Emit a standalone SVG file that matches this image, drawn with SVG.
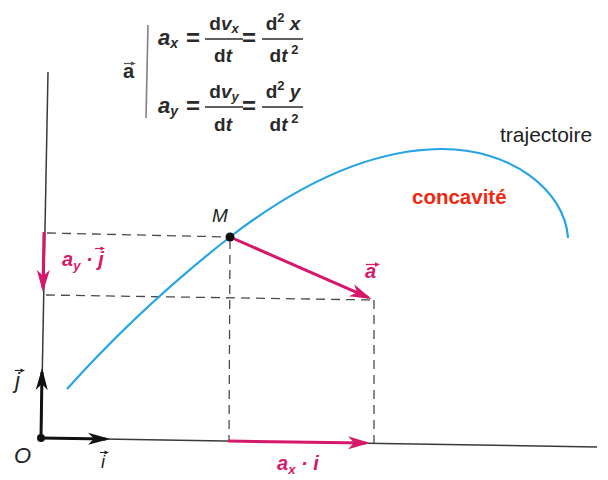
<svg xmlns="http://www.w3.org/2000/svg" width="608" height="480" viewBox="0 0 608 480">
<defs>
<style>
.t{font-family:"Liberation Sans",Arial,sans-serif;}
.f{font-family:"Liberation Sans",Arial,sans-serif;font-weight:bold;fill:#2a2a2a;}
.bi{font-weight:bold;font-style:italic;}
.mag{fill:#d6186a;}
.dash{fill:none;stroke:#4a4a4a;stroke-width:1.3;stroke-dasharray:9 6;}
.axis{fill:none;stroke:#3a3a3a;stroke-width:1.5;}
.vm{fill:none;stroke:#d6186a;stroke-width:3;}
.vb{fill:none;stroke:#111;stroke-width:3;}
.bar{stroke:#2a2a2a;stroke-width:1.6;}
</style>
<marker id="am" markerUnits="userSpaceOnUse" markerWidth="24" markerHeight="16" refX="18" refY="8" orient="auto">
<path d="M0,1.5 L22,8 L0,14.5 L6,8 z" fill="#d6186a"/>
</marker>
<marker id="ab" markerUnits="userSpaceOnUse" markerWidth="24" markerHeight="16" refX="18" refY="8" orient="auto">
<path d="M0,2 L22,8 L0,14 L6,8 z" fill="#111"/>
</marker>
</defs>
<rect width="608" height="480" fill="#fff"/>

<g id="connectors">
<line class="axis" x1="48" y1="72" x2="41" y2="438"/>
<line class="axis" x1="41" y1="438" x2="597" y2="447"/>
<line class="dash" x1="47" y1="233" x2="230" y2="237"/>
<line class="dash" x1="46" y1="295" x2="374" y2="300"/>
<line class="dash" x1="230" y1="240" x2="229" y2="441"/>
<line class="dash" x1="374" y1="300" x2="374" y2="443"/>
<path id="trajectory" d="M67,389 C120,330 175,280 230,237 C300,183 370,150 440,149 C510,148 565,190 568,238" fill="none" stroke="#27a4e6" stroke-width="2.2"/>
<line class="vb" x1="41" y1="438" x2="42" y2="372" marker-end="url(#ab)"/>
<line class="vb" x1="41" y1="438" x2="106" y2="439" marker-end="url(#ab)"/>
<line class="vm" x1="44" y1="232" x2="43" y2="288" marker-end="url(#am)"/>
<line class="vm" x1="228" y1="441" x2="366" y2="443" marker-end="url(#am)"/>
<line class="vm" x1="230" y1="237" x2="368" y2="297.4" marker-end="url(#am)"/>
</g>

<g id="formula">
<line x1="148" y1="25" x2="146" y2="118" stroke="#8a7a8a" stroke-width="1.6"/>
<text class="f" x="123" y="78" font-size="20" fill="#555">a</text>
<path d="M124,63.5 H133" stroke="#555" stroke-width="1.2"/>
<path d="M136,63.5 L131,61.5 L131,65.5 z" fill="#555"/>
<!-- row 1 -->
<text class="f bi" x="158" y="45" font-size="22">a<tspan font-size="14" dy="3">x</tspan></text>
<text class="t" x="186" y="46" font-size="24" font-weight="bold" fill="#2a2a2a">=</text>
<text class="f" x="224" y="30" font-size="19" text-anchor="middle">d<tspan font-style="italic">v</tspan><tspan font-style="italic" font-size="13" dy="3">x</tspan></text>
<line class="bar" x1="205" y1="39" x2="243" y2="39"/>
<text class="f" x="223" y="62" font-size="19" text-anchor="middle">d<tspan font-style="italic">t</tspan></text>
<text class="t" x="242" y="46" font-size="24" font-weight="bold" fill="#2a2a2a">=</text>
<text class="f" x="283" y="30" font-size="19" text-anchor="middle">d<tspan font-size="13" dy="-8">2</tspan><tspan font-style="italic" dy="8"> x</tspan></text>
<line class="bar" x1="262" y1="39" x2="303" y2="39"/>
<text class="f" x="284" y="62" font-size="19" text-anchor="middle">d<tspan font-style="italic">t</tspan><tspan font-size="13" dy="-8"> 2</tspan></text>
<!-- row 2 -->
<text class="f bi" x="158" y="113" font-size="22">a<tspan font-size="14" dy="3">y</tspan></text>
<text class="t" x="186" y="114" font-size="24" font-weight="bold" fill="#2a2a2a">=</text>
<text class="f" x="224" y="98" font-size="19" text-anchor="middle">d<tspan font-style="italic">v</tspan><tspan font-style="italic" font-size="13" dy="3">y</tspan></text>
<line class="bar" x1="205" y1="107" x2="243" y2="107"/>
<text class="f" x="223" y="131" font-size="19" text-anchor="middle">d<tspan font-style="italic">t</tspan></text>
<text class="t" x="242" y="114" font-size="24" font-weight="bold" fill="#2a2a2a">=</text>
<text class="f" x="283" y="98" font-size="19" text-anchor="middle">d<tspan font-size="13" dy="-8">2</tspan><tspan font-style="italic" dy="8"> y</tspan></text>
<line class="bar" x1="262" y1="107" x2="303" y2="107"/>
<text class="f" x="284" y="131" font-size="19" text-anchor="middle">d<tspan font-style="italic">t</tspan><tspan font-size="13" dy="-8"> 2</tspan></text>
</g>

<g id="point-M">
<circle cx="230" cy="237" r="4.5" fill="#111"/>
<text class="t" x="212" y="222" font-size="19" font-style="italic" fill="#222">M</text>
</g>

<g id="origin-O">
<circle cx="41" cy="438" r="4" fill="#111"/>
<text class="t" x="14" y="463" font-size="22" font-style="italic" fill="#222">O</text>
</g>

<g id="label-j">
<text class="t" x="15" y="388" font-size="22" font-style="italic" fill="#222">j</text>
<path d="M15,370.5 H22" stroke="#222" stroke-width="1.1"/>
<path d="M25,370.5 L20.5,368.5 L20.5,372.5 z" fill="#222"/>
</g>

<g id="label-i">
<text class="t" x="101" y="468" font-size="18" font-style="italic" fill="#222">i</text>
<path d="M100,452.5 H106" stroke="#222" stroke-width="1.1"/>
<path d="M109,452.5 L104.5,450.5 L104.5,454.5 z" fill="#222"/>
</g>

<g id="label-a-vector">
<text class="t bi mag" x="365" y="278" font-size="20">a</text>
<path d="M366,264.5 H376" stroke="#d6186a" stroke-width="1.3"/>
<path d="M380,264.5 L375,262.3 L375,266.7 z" fill="#d6186a"/>
</g>

<g id="label-ayj">
<text class="t bi mag" x="62" y="266" font-size="20">a<tspan font-size="13" dy="4">y</tspan><tspan dy="-4"> ·</tspan><tspan> j</tspan></text>
<path d="M95,248.5 H102" stroke="#d6186a" stroke-width="1.2"/>
<path d="M105,248.5 L100.5,246.5 L100.5,250.5 z" fill="#d6186a"/>
</g>

<g id="label-axi">
<text class="t bi mag" x="277" y="470" font-size="20">a<tspan font-size="13" dy="4">x</tspan><tspan dy="-4"> · i</tspan></text>
</g>

<g id="label-trajectoire">
<text class="t" x="500" y="142" font-size="21" fill="#222">trajectoire</text>
</g>

<g id="label-concavite">
<text class="t" x="412" y="204" font-size="20.5" font-weight="bold" fill="#f02810">concavité</text>
</g>
</svg>
